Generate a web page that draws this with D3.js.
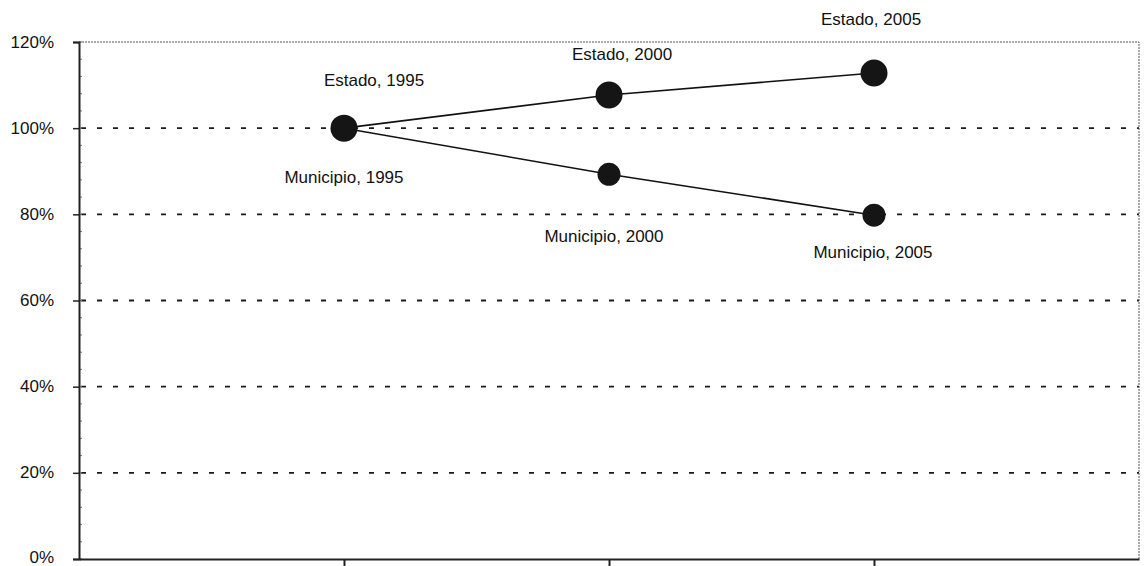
<!DOCTYPE html>
<html>
<head>
<meta charset="utf-8">
<script src="https://cdn.jsdelivr.net/npm/d3@7"></script>
<style>
  body { margin: 0; background: #fff; }
  svg text { font-family: "Liberation Sans", Arial, sans-serif; fill: #111; }
</style>
</head>
<body>
<div id="chart"></div>
<script>
// data (index, 1995 = 100%)
var years = [1995, 2000, 2005];
var estado = [100, 107.7, 112.8];
var municipio = [100, 89.3, 79.8];
var yTicks = [0, 20, 40, 60, 80, 100, 120];

var width = 1144, height = 566;
var margin = {top: 42, right: 5, bottom: 7, left: 79};

var svg = d3.select("#chart").append("svg")
  .attr("width", width)
  .attr("height", height);

var x = d3.scaleLinear().domain([1990, 2010]).range([margin.left, width - margin.right]);
var y = d3.scaleLinear().domain([0, 120]).range([height - margin.bottom, margin.top]);

// dashed gridlines
svg.append("g")
  .selectAll("line")
  .data(yTicks.filter(d => d > 0 && d < 120))
  .enter().append("line")
  .attr("x1", x(1990) + 2).attr("x2", x(2010))
  .attr("y1", d => y(d)).attr("y2", d => y(d))
  .attr("stroke", "#1a1a1a")
  .attr("stroke-width", 1.8)
  .attr("stroke-dasharray", "5,11");

// top and right border (dotted thin)
svg.append("path")
  .attr("d", "M" + x(1990) + "," + y(120) + "H" + x(2010) + "V" + y(0))
  .attr("fill", "none")
  .attr("stroke", "#555")
  .attr("stroke-width", 1)
  .attr("stroke-dasharray", "2,1");

// minor ticks on y axis
svg.append("g")
  .selectAll("line")
  .data(d3.range(0, 121, 4))
  .enter().append("line")
  .attr("x1", x(1990)).attr("x2", x(1990) + 3)
  .attr("y1", d => y(d)).attr("y2", d => y(d))
  .attr("stroke", "#777");

// y axis
var yAxis = d3.axisLeft(y).tickValues(yTicks).tickSize(6).tickFormat(d => d + "%");
var gy = svg.append("g")
  .attr("transform", "translate(" + x(1990) + ",0)")
  .call(yAxis);
gy.select(".domain").attr("stroke", "#222").attr("stroke-width", 2);
gy.selectAll(".tick line").attr("stroke", "#222").attr("stroke-width", 1.5);
gy.selectAll(".tick text")
  .attr("x", -25)
  .attr("dy", d => d == 0 ? "0.2em" : "0.3em")
  .style("font-size", "17px")
  .style("font-family", "'Liberation Sans', Arial, sans-serif")
  .attr("fill", "#111");

// x axis (no labels)
var xAxis = d3.axisBottom(x).tickValues(years).tickSize(8).tickSizeOuter(0).tickFormat("");
var gx = svg.append("g")
  .attr("transform", "translate(0," + y(0) + ")")
  .call(xAxis);
gx.select(".domain").attr("stroke", "#222").attr("stroke-width", 2);
gx.selectAll(".tick line").attr("stroke", "#222").attr("stroke-width", 2);

// lines
var line = d3.line().x((d, i) => x(years[i])).y(d => y(d));
[estado, municipio].forEach(function(s) {
  svg.append("path")
    .datum(s)
    .attr("d", line)
    .attr("fill", "none")
    .attr("stroke", "#111")
    .attr("stroke-width", 1.6);
});

// markers
svg.append("g").selectAll("circle")
  .data(municipio).enter().append("circle")
  .attr("cx", (d, i) => x(years[i])).attr("cy", d => y(d))
  .attr("r", 11.5).attr("fill", "#151515");
svg.append("g").selectAll("circle")
  .data(estado).enter().append("circle")
  .attr("cx", (d, i) => x(years[i])).attr("cy", d => y(d))
  .attr("r", 13.5).attr("fill", "#151515");

// point labels
var estadoOff = [[30, -42], [13, -35], [-3, -48]];
var municipioOff = [[0, 55], [-5, 68], [-1, 43]];

function labels(series, name, off) {
  svg.append("g").selectAll("text")
    .data(series).enter().append("text")
    .attr("x", (d, i) => x(years[i]) + off[i][0])
    .attr("y", (d, i) => y(d) + off[i][1])
    .attr("text-anchor", "middle")
    .style("font-size", "17px")
    .text((d, i) => name + ",  " + years[i]);
}
labels(estado, "Estado", estadoOff);
labels(municipio, "Municipio", municipioOff);
</script>
</body>
</html>
